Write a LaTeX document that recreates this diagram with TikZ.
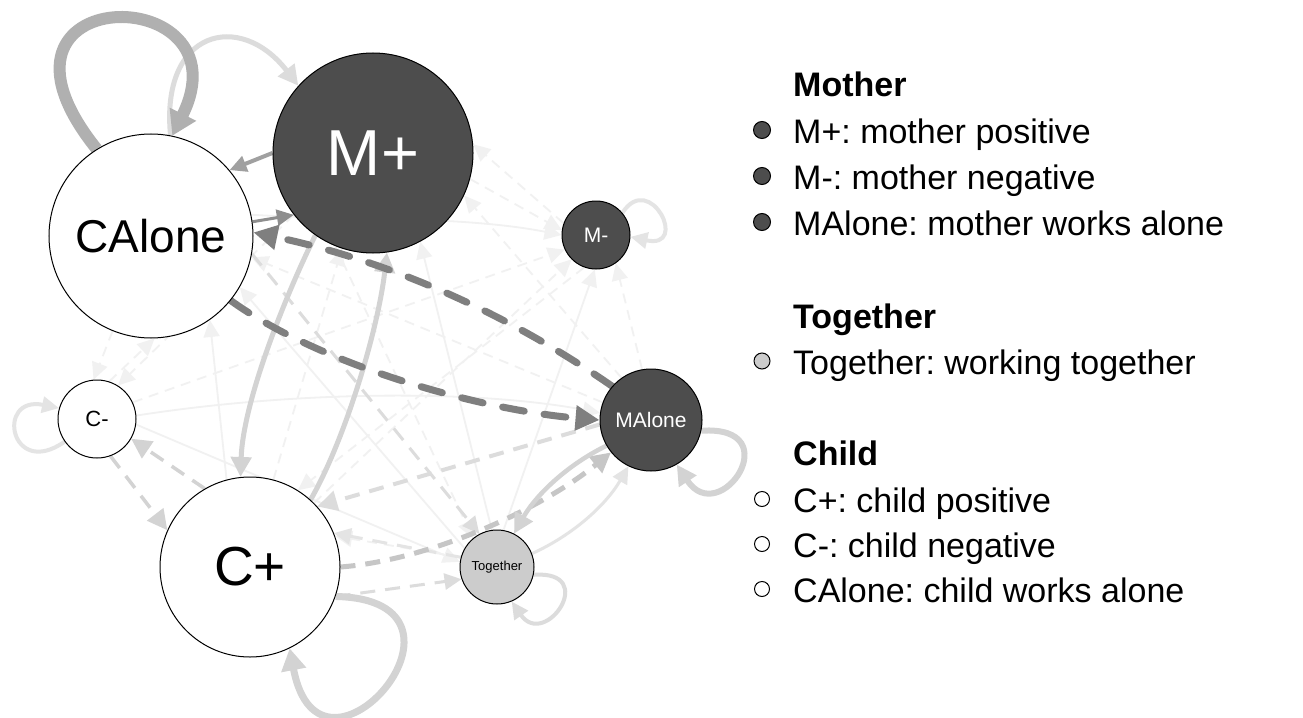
\documentclass[tikz,border=0pt]{standalone}
\usepackage{fontspec}
\setmainfont{Liberation Sans}
\usetikzlibrary{arrows.meta}
\frenchspacing
\definecolor{nodedark}{HTML}{4D4D4D}
\definecolor{nodetog}{HTML}{CCCCCC}
\definecolor{edark}{HTML}{7F7F7F}
\definecolor{emidd}{HTML}{8E8E8E}
\definecolor{emid}{HTML}{A0A0A0}
\definecolor{eloop}{HTML}{B0B0B0}
\definecolor{emlight}{HTML}{C6C6C6}
\definecolor{elight}{HTML}{D3D3D3}
\definecolor{elighter}{HTML}{DCDCDC}
\definecolor{epale}{HTML}{E4E4E4}
\definecolor{efaint}{HTML}{F1F1F1}
\pgfdeclarelayer{bgfill}
\pgfdeclarelayer{edges}
\pgfsetlayers{bgfill,edges,main}
\tikzset{
  nd/.style={circle, draw=black, line width=1bp, inner sep=0pt},
  bigtip/.style={-{Triangle[length=24bp,width=24bp]}},
  midtip/.style={-{Triangle[length=20bp,width=20bp]}},
  smalltip/.style={-{Triangle[length=17bp,width=16bp]}},
  ddash/.style={dash pattern=on 22bp off 20bp, line cap=round},
  ldash/.style={dash pattern=on 15bp off 10bp},
  fdash/.style={dash pattern=on 10bp off 7bp},
  faint/.style={draw=efaint, line width=1.8bp, smalltip},
  legtext/.style={anchor=base west, inner sep=0pt, font=\fontsize{34bp}{40bp}\selectfont},
  leghead/.style={anchor=base west, inner sep=0pt, font=\fontsize{34bp}{40bp}\selectfont\bfseries},
  bul/.style={circle, draw=black, line width=1bp, inner sep=0pt}
}
\begin{document}
\begin{tikzpicture}[x=1bp,y=-1bp]
\useasboundingbox (0,0) rectangle (1303,717);
\begin{pgfonlayer}{bgfill}
\fill[white] (0,0) rectangle (1303,717);
\end{pgfonlayer}

% nodes
\node[nd, fill=nodedark, minimum size=200bp, text=white, font=\fontsize{65bp}{70bp}\selectfont] (mp) at (373,153) {M+};
\node[nd, fill=white, minimum size=204bp, font=\fontsize{46bp}{50bp}\selectfont] (ca) at (151,236) {CAlone};
\node[nd, fill=nodedark, minimum size=68bp, text=white, font=\fontsize{21bp}{24bp}\selectfont] (mm) at (596,235) {M-};
\node[nd, fill=white, minimum size=78bp, font=\fontsize{22bp}{24bp}\selectfont] (cm) at (97,419) {C-};
\node[nd, fill=nodedark, minimum size=102bp, text=white, font=\fontsize{21bp}{24bp}\selectfont] (ma) at (651,420) {MAlone};
\node[nd, fill=white, minimum size=180bp, font=\fontsize{55bp}{60bp}\selectfont] (cp) at (250,567) {C+};
\node[nd, fill=nodetog, minimum size=74bp, font=\fontsize{13bp}{15bp}\selectfont] (tg) at (497,567) {Together};

\begin{pgfonlayer}{edges}
% faint web
\draw[faint, fdash] (mm.160) -- (mp.5);
\draw[faint, fdash] (ma.125) -- (mp.-25);
\draw[faint] (ca.12) .. controls (330,220) and (460,215) .. (mm.180);
\draw[faint, fdash] (mp.-15) -- (mm.172);
\draw[faint, fdash] (cp.45) -- (mm.225);
\draw[faint] (tg.80) -- (mm.268);
\draw[faint, fdash] (ma.100) -- (mm.305);
\draw[faint] (cm.5) .. controls (300,390) and (480,390) .. (ma.172);
\draw[faint, fdash] (cm.25) -- (mm.205);
\draw[faint, fdash] (cm.72) -- (ca.-88);
\draw[faint, fdash] (ca.-112) -- (cm.95);
\draw[faint, fdash] (mp.218) -- (cm.58);
\draw[faint] (cp.105) -- (ca.-55);
\draw[faint] (tg.150) -- (ca.-30);
\draw[faint, fdash] (ma.160) -- (ca.-12);
\draw[faint, fdash] (tg.165) -- (cp.20);
\draw[faint, fdash] (mp.248) -- (tg.130);
\draw[faint] (cm.-8) -- (tg.172);
\draw[faint, fdash] (mm.250) -- (cp.58);
\draw[faint] (tg.98) -- (mp.-62);
\draw[faint, fdash] (cp.75) -- (mp.252);
% light dashed
\draw[draw=elighter, line width=3bp, ldash, smalltip] (ca.-10) -- (tg.118);
\draw[draw=elighter, line width=3bp, ldash, smalltip] (cp.-19) -- (tg.199);
\draw[draw=epale, line width=3bp, ldash, smalltip] (tg.165) -- (cp.22);
\draw[draw=elight, line width=3.5bp, ldash, midtip] (cm.290) -- (cp.156);
\draw[draw=elight, line width=3.5bp, ldash, midtip] (cp.120) -- (cm.330);
\draw[draw=elighter, line width=4bp, ldash, midtip] (ma.185) -- (cp.42);
\draw[draw=emlight, line width=5bp, ldash, midtip] (cp.0) .. controls (430,560) and (540,510) .. (ma.219);
% light solid
\draw[draw=epale, line width=3bp, smalltip] (tg.21) .. controls (573,535) and (606,505) .. (ma.244);
\draw[draw=elight, line width=4.5bp, midtip] (ma.210) .. controls (567,465) and (536,495) .. (tg.63);
\draw[draw=elight, line width=5bp, midtip] (mp.235) .. controls (288,290) and (243,400) .. (cp.96);
\draw[draw=elight, line width=5bp, midtip] (cp.48) .. controls (345,440) and (378,330) .. (mp.278);
\draw[draw=elighter, line width=5bp, midtip] (ca.79) .. controls (160,30) and (240,10) .. (mp.138);
% self loops
\draw[draw=eloop, line width=12bp, -{Triangle[length=24bp,width=28bp]}] (ca.122) .. controls (-40,-21) and (250,-21) .. (ca.78);
\draw[draw=elight, line width=7bp, -{Triangle[length=22bp,width=24bp]}] (cp.341) .. controls (500,600) and (320,810) .. (cp.296);
\draw[draw=elight, line width=6bp, midtip] (ma.348) .. controls (790,425) and (720,530) .. (ma.300);
\draw[draw=elighter, line width=4bp, smalltip] (tg.348) .. controls (600,570) and (545,650) .. (tg.293);
\draw[draw=epale, line width=4bp, smalltip] (mm.40) .. controls (650,170) and (690,250) .. (mm.357);
\draw[draw=epale, line width=4bp, smalltip] (cm.215) .. controls (10,480) and (-5,395) .. (cm.164);
% medium
\draw[draw=emid, line width=4bp, smalltip] (mp.180) -- (ca.40);
\draw[draw=emidd, line width=3bp, smalltip] (ca.8) -- (mp.218);
% dark dashed
\draw[draw=edark, line width=7bp, ddash, bigtip] (ma.139) .. controls (504,311) and (385,260) .. (ca.2);
\draw[draw=edark, line width=7bp, ddash, bigtip] (ca.321) .. controls (320,365) and (480,410) .. (ma.180);
\end{pgfonlayer}

% legend
\node[leghead] (hm) at (793,97) {Mother};
\node[bul, fill=nodedark, minimum size=17bp] (b1) at (762,130) {};
\node[legtext] (l1) at (793,143) {M+: mother positive};
\node[bul, fill=nodedark, minimum size=17bp] (b2) at (762,176) {};
\node[legtext] (l2) at (793,189) {M-: mother negative};
\node[bul, fill=nodedark, minimum size=17bp] (b3) at (762,222) {};
\node[legtext] (l3) at (793,235) {MAlone: mother works alone};
\node[leghead] (ht) at (793,328) {Together};
\node[bul, fill=nodetog, minimum size=16bp] (b4) at (762,361) {};
\node[legtext] (l4) at (793,374) {Together: working together};
\node[leghead] (hc) at (793,465) {Child};
\node[bul, fill=white, minimum size=15bp] (b5) at (762,499) {};
\node[legtext] (l5) at (793,512) {C+: child positive};
\node[bul, fill=white, minimum size=15bp] (b6) at (762,544) {};
\node[legtext] (l6) at (793,557) {C-: child negative};
\node[bul, fill=white, minimum size=15bp] (b7) at (762,589) {};
\node[legtext] (l7) at (793,602) {CAlone: child works alone};
\end{tikzpicture}
\end{document}
